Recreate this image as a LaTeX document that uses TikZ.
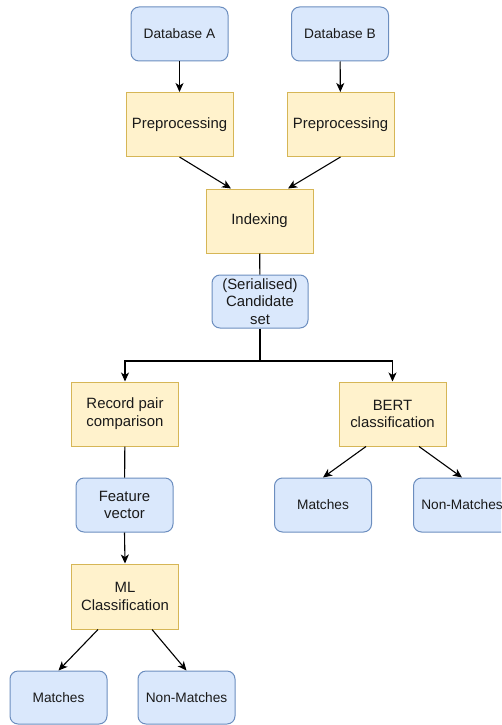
\documentclass[tikz,border=0pt]{standalone}
\usepackage{fontspec}
\setmainfont{Liberation Sans}
\usetikzlibrary{arrows.meta}
\definecolor{bluefill}{HTML}{DAE8FC}
\definecolor{blueline}{HTML}{6C8EBF}
\definecolor{yelfill}{HTML}{FFF2CC}
\definecolor{yelline}{HTML}{D6B656}
\definecolor{ink}{HTML}{1A1A1A}
\begin{document}
\begin{tikzpicture}[x=1pt,y=-1pt,
  box/.style={line width=1pt, align=center, inner sep=0pt, text=ink,
    font=\fontsize{14.9}{17.8}\selectfont},
  blu/.style={box, draw=blueline, fill=bluefill, rounded corners=8pt,
    minimum width=97pt, minimum height=54pt},
  bluone/.style={blu, font=\fontsize{13.7}{16.5}\selectfont},
  yel/.style={box, draw=yelline, fill=yelfill,
    minimum width=107pt, minimum height=64pt},
  link/.style={line width=1.1pt, draw=black},
  arr/.style={link, -{Stealth[length=9pt,width=8pt,inset=2.5pt]}}]
\useasboundingbox (0,0) rectangle (501,725);
\clip (0,0) rectangle (501,725);

% sources
\node[bluone] (dbA) at (179.5,34) {Database A};
\node[bluone] (dbB) at (340,34) {Database B};
\node[yel] (preA) at (179.5,124.5) {Preprocessing};
\node[yel] (preB) at (340.5,124.5) {Preprocessing};

% indexing and candidates
\node[yel] (idx) at (259.5,221) {Indexing};
\node[blu, minimum height=53pt, minimum width=96pt] (cand) at (260,301.5) {(Serialised)\\Candidate\\set};
\coordinate (split) at (260,361);

% classic pipeline
\node[yel] (rec) at (125,414) {Record pair\\comparison};
\node[blu] (fv) at (124.5,505) {Feature\\vector};
\node[yel, minimum height=65pt] (ml) at (125,596.5) {ML\\Classification};
\node[bluone, minimum height=53pt] (mL) at (58.5,697.5) {Matches};
\node[bluone, minimum height=53pt] (nL) at (186.5,697.5) {Non-Matches};

% BERT pipeline
\node[yel] (bert) at (392.5,414) {BERT\\classification};
\node[bluone] (mR) at (323,505) {Matches};
\node[bluone] (nR) at (462,505) {Non-Matches};

% connectors
\draw[arr] (dbA) -- (preA);
\draw[arr] (dbB) -- (preB);
\draw[arr] (preA.south) -- ([xshift=-28.5pt]idx.north);
\draw[arr] (preB.south) -- ([xshift=28.5pt]idx.north);
\draw[link] (idx) -- (cand);
\draw[link] (cand.south) -- (split);
\draw[arr] (split) -| (rec.north);
\draw[arr] (split) -| (bert.north);
\draw[link] (rec) -- (fv);
\draw[arr] (fv.south) -- (ml.north);
\draw[arr] ([xshift=-27pt]ml.south) -- (mL.north);
\draw[arr] ([xshift=27pt]ml.south) -- (nL.north);
\draw[arr] ([xshift=-26.5pt]bert.south) -- (mR.north);
\draw[arr] ([xshift=26.5pt]bert.south) -- (nR.north);
\end{tikzpicture}
\end{document}
